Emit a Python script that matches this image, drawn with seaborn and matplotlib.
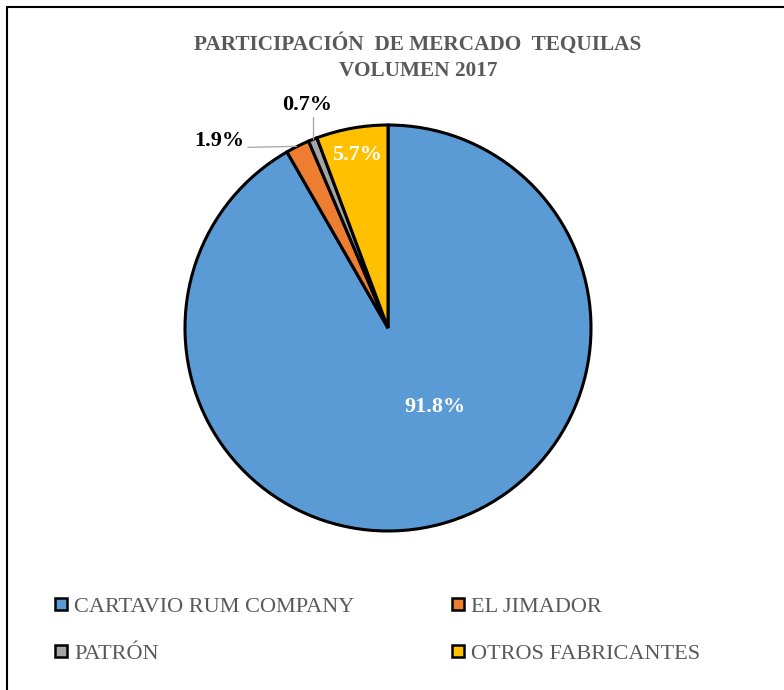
import matplotlib
matplotlib.use("Agg")
import matplotlib.pyplot as plt
from matplotlib.lines import Line2D
import seaborn as sns

sns.set_style("white")
plt.rcParams['font.family'] = ['Liberation Serif', 'DejaVu Serif']

categories = ["CARTAVIO RUM COMPANY", "EL JIMADOR", "PATRÓN", "OTROS FABRICANTES"]
values = [91.8, 1.9, 0.7, 5.7]
labels = ["91.8%", "1.9%", "0.7%", "5.7%"]
colors = ["#5B9BD5", "#ED7D31", "#A5A5A5", "#FFC000"]
title = "PARTICIPACIÓN  DE MERCADO  TEQUILAS\nVOLUMEN 2017"

W, H = 784, 690
fig = plt.figure(figsize=(W / 100, H / 100), dpi=100)

cx, cy, r = 388, 328, 203
ax = fig.add_axes([(cx - r) / W, 1 - (cy + r) / H, 2 * r / W, 2 * r / H])
ax.pie(values, colors=colors, startangle=90, counterclock=False,
       wedgeprops=dict(edgecolor="black", linewidth=2.2))
ax.set_xlim(-1, 1)
ax.set_ylim(-1, 1)
ax.set_aspect("equal")
ax.axis("off")

# data labels
fs_lab = 16
ax.text(0.23, -0.39, labels[0], color="white", fontsize=fs_lab, fontweight="bold",
        ha="center", va="center")
ax.text(-0.153, 0.852, labels[3], color="white", fontsize=fs_lab, fontweight="bold",
        ha="center", va="center")
ax.text(-0.83, 0.92, labels[1], color="black", fontsize=fs_lab, fontweight="bold",
        ha="center", va="center", clip_on=False)
ax.text(-0.40, 1.10, labels[2], color="black", fontsize=fs_lab, fontweight="bold",
        ha="center", va="center", clip_on=False)
ax.plot([-0.69, -0.45], [0.89, 0.895], color="#A5A5A5", lw=0.9, clip_on=False)
ax.plot([-0.37, -0.37], [1.04, 0.93], color="#A5A5A5", lw=0.9, clip_on=False)

fig.text(418 / W, 1 - 57 / H, title, ha="center", va="center", fontsize=15.3,
         fontweight="bold", color="#595959", linespacing=1.45)

# frame
fig.add_artist(Line2D([7 / W, 7 / W], [0, 1 - 7 / H], color="black", lw=1.5))
fig.add_artist(Line2D([7 / W, 1], [1 - 7 / H, 1 - 7 / H], color="black", lw=1.5))

handles = [Line2D([], [], marker="s", linestyle="none", markersize=9,
                  markerfacecolor=c, markeredgecolor="black", markeredgewidth=1.8)
           for c in colors]
order = [0, 2, 1, 3]
leg = fig.legend([handles[i] for i in order], [categories[i] for i in order],
                 ncol=2, loc="upper left",
                 bbox_to_anchor=(55 / W, 1 - 596 / H), frameon=False,
                 fontsize=16, handlelength=0.55, handletextpad=0.3,
                 columnspacing=4.4, labelspacing=1.2, borderaxespad=0,
                 borderpad=0)
for t in leg.get_texts():
    t.set_color("#595959")

fig.savefig("out.png", dpi=100)
